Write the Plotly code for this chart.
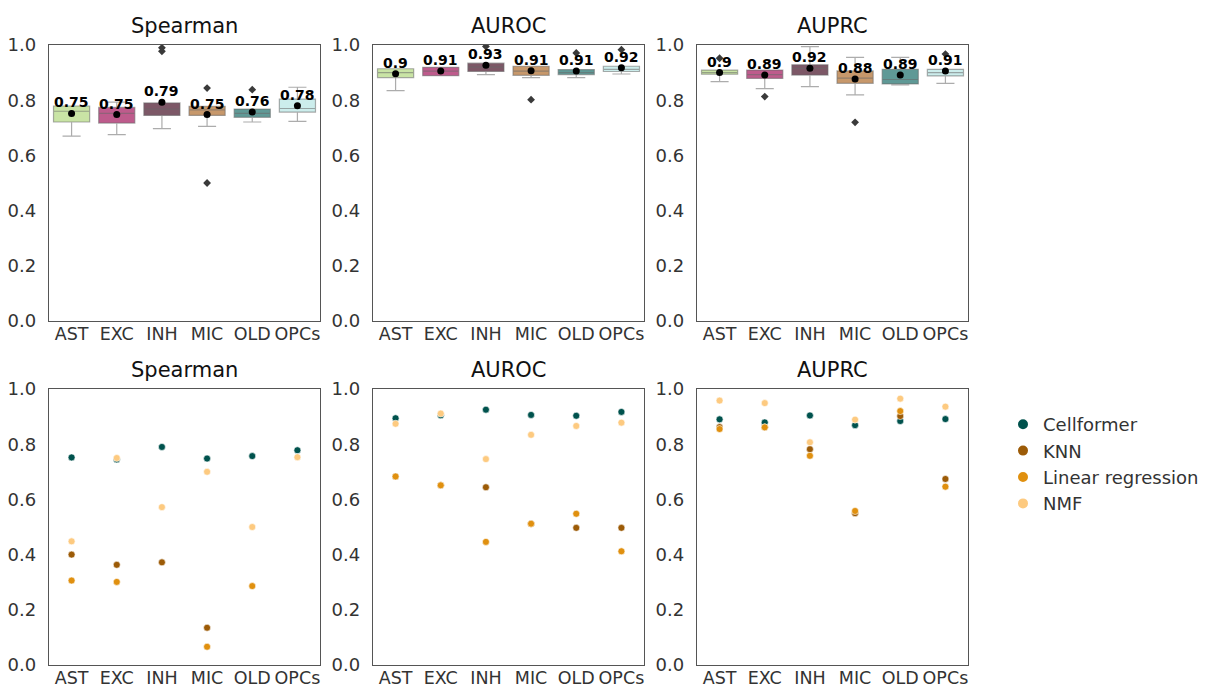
import plotly.graph_objects as go

cell_types = ["AST", "EXC", "INH", "MIC", "OLD", "OPCs"]
metrics = ["Spearman", "AUROC", "AUPRC"]
box_colors = ["#c4e29c", "#b84a80", "#6f4657", "#c18d5b", "#4e8f8b", "#c7ecea"]

# ---- top row: box statistics per cell type ----
spearman_q1 = [0.721, 0.717, 0.745, 0.745, 0.738, 0.757]
spearman_median = [0.760, 0.752, 0.768, 0.765, 0.752, 0.770]
spearman_q3 = [0.779, 0.774, 0.790, 0.778, 0.768, 0.804]
spearman_low = [0.670, 0.675, 0.697, 0.705, 0.721, 0.723]
spearman_high = [0.779, 0.793, 0.790, 0.778, 0.768, 0.847]
spearman_mean = [0.752, 0.748, 0.793, 0.748, 0.757, 0.780]
spearman_outliers = [[], [], [0.977, 0.990], [0.844, 0.500], [0.838], []]

auroc_q1 = [0.882, 0.889, 0.904, 0.890, 0.893, 0.904]
auroc_median = [0.900, 0.905, 0.920, 0.905, 0.900, 0.912]
auroc_q3 = [0.914, 0.919, 0.934, 0.923, 0.911, 0.923]
auroc_low = [0.835, 0.889, 0.893, 0.882, 0.882, 0.895]
auroc_high = [0.914, 0.919, 0.934, 0.923, 0.911, 0.923]
auroc_mean = [0.896, 0.906, 0.927, 0.907, 0.906, 0.918]
auroc_outliers = [[], [], [0.995], [0.802], [0.971], [0.983]]

auprc_q1 = [0.894, 0.879, 0.891, 0.861, 0.859, 0.888]
auprc_median = [0.900, 0.893, 0.915, 0.880, 0.875, 0.900]
auprc_q3 = [0.909, 0.909, 0.928, 0.906, 0.912, 0.912]
auprc_low = [0.867, 0.842, 0.849, 0.819, 0.855, 0.861]
auprc_high = [0.909, 0.909, 0.994, 0.955, 0.955, 0.912]
auprc_mean = [0.900, 0.891, 0.916, 0.877, 0.891, 0.906]
auprc_outliers = [[0.952], [0.813], [], [0.720], [], [0.967]]

# ---- bottom row: per-method scores ----
methods = ["Cellformer", "KNN", "Linear regression", "NMF"]
method_colors = ["#00524d", "#9c5b07", "#e0900f", "#fdca80"]

spearman_cellformer = [0.752, 0.745, 0.790, 0.748, 0.757, 0.778]
spearman_knn = [0.400, 0.363, 0.372, 0.135, None, None]
spearman_lr = [0.306, 0.301, None, 0.066, 0.286, None]
spearman_nmf = [0.448, 0.750, 0.572, 0.700, 0.500, 0.753]

auroc_cellformer = [0.894, 0.905, 0.925, 0.906, 0.903, 0.917]
auroc_knn = [0.683, 0.651, 0.644, 0.512, 0.497, 0.497]
auroc_lr = [0.683, 0.651, 0.446, 0.512, 0.548, 0.412]
auroc_nmf = [0.874, 0.911, 0.746, 0.834, 0.866, 0.878]

auprc_cellformer = [0.890, 0.879, 0.904, 0.869, 0.884, 0.891]
auprc_knn = [0.862, 0.861, 0.782, 0.550, 0.902, 0.674]
auprc_lr = [0.855, 0.861, 0.758, 0.558, 0.920, 0.646]
auprc_nmf = [0.958, 0.949, 0.807, 0.889, 0.965, 0.936]

box_stats = {
    "Spearman": (spearman_q1, spearman_median, spearman_q3, spearman_low, spearman_high, spearman_mean, spearman_outliers),
    "AUROC": (auroc_q1, auroc_median, auroc_q3, auroc_low, auroc_high, auroc_mean, auroc_outliers),
    "AUPRC": (auprc_q1, auprc_median, auprc_q3, auprc_low, auprc_high, auprc_mean, auprc_outliers),
}
point_data = {
    "Spearman": [spearman_cellformer, spearman_knn, spearman_lr, spearman_nmf],
    "AUROC": [auroc_cellformer, auroc_knn, auroc_lr, auroc_nmf],
    "AUPRC": [auprc_cellformer, auprc_knn, auprc_lr, auprc_nmf],
}

W, H = 1215, 688
x_px = [(49, 320), (373, 644), (697, 968)]
y_px = [(45, 321), (389, 665)]

FONT = "DejaVu Sans"
fig = go.Figure()
layout = dict(
    width=W, height=H, margin=dict(l=0, r=0, t=0, b=0, autoexpand=False),
    plot_bgcolor="white", paper_bgcolor="white",
    font=dict(family=FONT, size=18, color="#333333"),
    showlegend=True,
    legend=dict(x=1003 / W, y=1 - 406 / H, xanchor="left", yanchor="top",
                font=dict(size=18, color="#333333"), tracegroupgap=0,
                itemsizing="constant", bgcolor="rgba(0,0,0,0)"),
)
annotations = []

axis_idx = 0
for row in range(2):
    for col in range(3):
        axis_idx += 1
        xa = "xaxis" if axis_idx == 1 else f"xaxis{axis_idx}"
        ya = "yaxis" if axis_idx == 1 else f"yaxis{axis_idx}"
        xref = "x" if axis_idx == 1 else f"x{axis_idx}"
        yref = "y" if axis_idx == 1 else f"y{axis_idx}"
        x0, x1 = x_px[col]
        y0, y1 = y_px[row]
        layout[xa] = dict(
            domain=[x0 / W, x1 / W], anchor=yref, type="category",
            categoryorder="array", categoryarray=cell_types,
            range=[-0.5, 5.5], showgrid=False, zeroline=False, automargin=False,
            showline=True, linecolor="#555555", linewidth=1.3, mirror=True,
            ticks="", ticklabelstandoff=-3,
            tickfont=dict(size=17.5, color="#333333", family=FONT),
        )
        layout[ya] = dict(
            domain=[1 - y1 / H, 1 - y0 / H], anchor=xref, range=[0, 1.0],
            tickvals=[0, 0.2, 0.4, 0.6, 0.8, 1.0],
            ticktext=["0.0", "0.2", "0.4", "0.6", "0.8", "1.0"],
            showgrid=False, zeroline=False, automargin=False,
            showline=True, linecolor="#555555", linewidth=1.3, mirror=True,
            ticks="", ticklabelstandoff=8,
            tickfont=dict(size=18, color="#333333", family=FONT),
        )
        metric = metrics[col]
        annotations.append(dict(
            text=metric, xref="paper", yref="paper",
            x=(x0 + x1) / 2 / W, y=1 - y0 / H, yshift=5,
            xanchor="center", yanchor="bottom", showarrow=False,
            font=dict(size=21, color="#111111", family=FONT),
        ))

        if row == 0:
            q1, med, q3, lo, hi, mean, outl = box_stats[metric]
            for i, ct in enumerate(cell_types):
                fig.add_trace(go.Box(
                    x=[ct], q1=[q1[i]], median=[med[i]], q3=[q3[i]],
                    lowerfence=[lo[i]], upperfence=[hi[i]],
                    fillcolor=box_colors[i], opacity=0.9,
                    line=dict(color="rgba(90,90,90,0.55)", width=1.2),
                    width=0.8, whiskerwidth=0.5, boxpoints=False,
                    showlegend=False, hoverinfo="skip",
                    xaxis=xref, yaxis=yref,
                ))
                if outl[i]:
                    fig.add_trace(go.Scatter(
                        x=[ct] * len(outl[i]), y=outl[i], mode="markers",
                        marker=dict(symbol="diamond", size=6, color="#3a3a3a"),
                        showlegend=False, hoverinfo="skip",
                        xaxis=xref, yaxis=yref,
                    ))
            fig.add_trace(go.Scatter(
                x=cell_types, y=mean, mode="markers",
                marker=dict(size=7, color="black"),
                showlegend=False, hoverinfo="skip",
                xaxis=xref, yaxis=yref,
            ))
            for i, ct in enumerate(cell_types):
                annotations.append(dict(
                    text=f"<b>{round(mean[i], 2)}</b>", xref=xref, yref=yref,
                    x=ct, y=mean[i], yshift=11, xanchor="center",
                    yanchor="middle", showarrow=False,
                    font=dict(size=14, color="black", family=FONT),
                ))
        else:
            for m, name in enumerate(methods):
                fig.add_trace(go.Scatter(
                    x=cell_types, y=point_data[metric][m], mode="markers",
                    name=name, legendgroup=name,
                    marker=dict(size=7, color=method_colors[m],
                                line=dict(color="white", width=0.6)),
                    showlegend=(col == 0), hoverinfo="skip",
                    xaxis=xref, yaxis=yref,
                ))

layout["annotations"] = annotations
fig.update_layout(**layout)
fig.write_html("out.html")
